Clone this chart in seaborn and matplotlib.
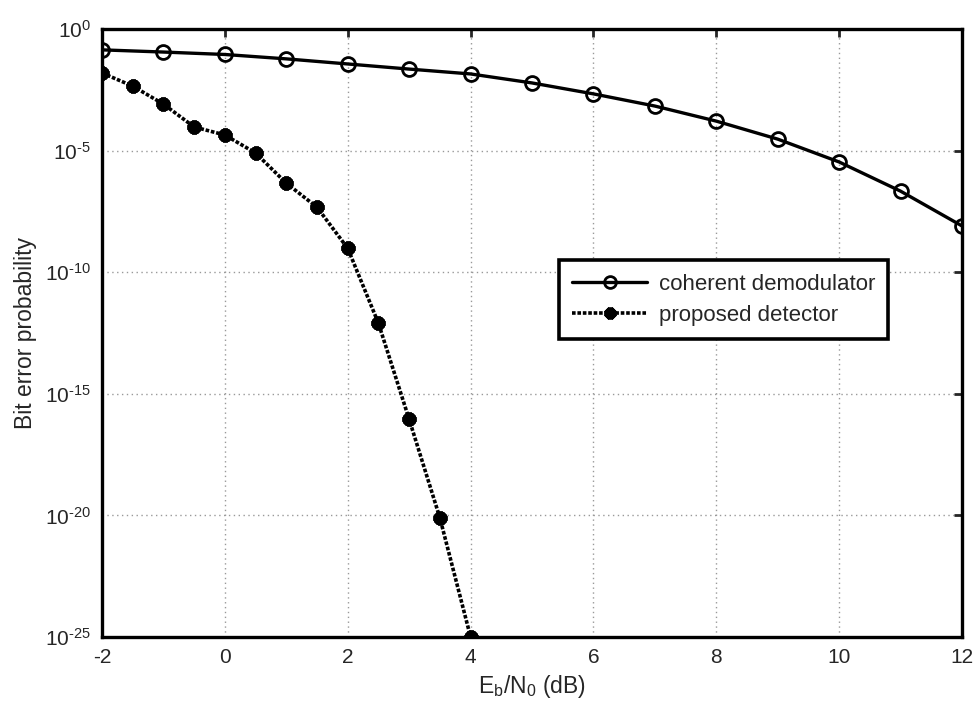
import numpy as np
import pandas as pd
import matplotlib
matplotlib.use("Agg")
import matplotlib.pyplot as plt
import seaborn as sns

# Data
ebn0_coh = [-2, -1, 0, 1, 2, 3, 4, 5, 6, 7, 8, 9, 10, 11, 12]
logber_coh = [-0.86, -0.95, -1.05, -1.23, -1.44, -1.65, -1.85, -2.22, -2.67,
              -3.17, -3.79, -4.53, -5.47, -6.67, -8.1]
ebn0_prop = [-2, -1.5, -1, -0.5, 0, 0.5, 1, 1.5, 2, 2.5, 3, 3.5, 4]
logber_prop = [-1.81, -2.35, -3.09, -4.03, -4.36, -5.1, -6.34, -7.33, -9.02,
               -12.1, -16.05, -20.1, -25.0]
labels = ["coherent demodulator", "proposed detector"]
x_ticks = [-2, 0, 2, 4, 6, 8, 10, 12]
y_ticks_exp = [0, -5, -10, -15, -20, -25]

df_coh = pd.DataFrame({"x": ebn0_coh, "ber": 10.0 ** np.array(logber_coh)})
df_prop = pd.DataFrame({"x": ebn0_prop, "ber": 10.0 ** np.array(logber_prop)})

sns.set_style("white")
plt.rcParams["font.family"] = ["Liberation Sans", "DejaVu Sans"]
plt.rcParams["mathtext.fontset"] = "custom"
plt.rcParams["mathtext.rm"] = "Liberation Sans"
plt.rcParams["mathtext.it"] = "Liberation Sans"
plt.rcParams["axes.unicode_minus"] = False

fig = plt.figure(figsize=(9.76, 7.06), dpi=100)
ax = fig.add_axes([0.1045, 0.0977, 0.8812, 0.8613])

sns.lineplot(data=df_coh, x="x", y="ber", ax=ax, color="black", linewidth=2.4,
             marker="o", markersize=10, markerfacecolor="none",
             markeredgecolor="black", markeredgewidth=2.0, label=labels[0])
sns.lineplot(data=df_prop, x="x", y="ber", ax=ax, color="black", linewidth=2.6,
             linestyle=(0, (1, 0.5)), marker=(8, 2, 0), markersize=10,
             markerfacecolor="black", markeredgecolor="black", markeredgewidth=3.5,
             label=labels[1])

ax.set_yscale("log")
ax.set_xlim(-2, 12)
ax.set_ylim(1e-25, 1e0)
ax.set_xticks(x_ticks)
ax.set_xticklabels([str(t) for t in x_ticks])
ax.set_yticks([10.0 ** e for e in y_ticks_exp])
ax.set_yticklabels([r"$10^{\text{%d}}$" % e for e in y_ticks_exp])
ax.yaxis.set_minor_locator(matplotlib.ticker.NullLocator())

ax.grid(True, which="major", color="#999999", linestyle=(0, (1, 2.5)), linewidth=1.0)
for s in ax.spines.values():
    s.set_linewidth(2.4)
    s.set_color("black")
ax.tick_params(axis="both", which="major", direction="in", length=6, width=2,
               labelsize=15, top=True, right=True, pad=8)

ax.set_xlabel(r"E$_\mathregular{b}$/N$_\mathregular{0}$ (dB)", fontsize=16.5, labelpad=4)
ax.set_ylabel("Bit error probability", fontsize=16.5, labelpad=6)

leg = ax.legend(loc="upper left", bbox_to_anchor=(0.518, 0.638), fontsize=16,
                frameon=True, fancybox=False, framealpha=1, edgecolor="black",
                handlelength=3.4, handletextpad=0.5, borderpad=0.6,
                labelspacing=0.45, markerscale=0.85)
leg.get_frame().set_linewidth(2.6)

fig.savefig("out.png", dpi=100)
